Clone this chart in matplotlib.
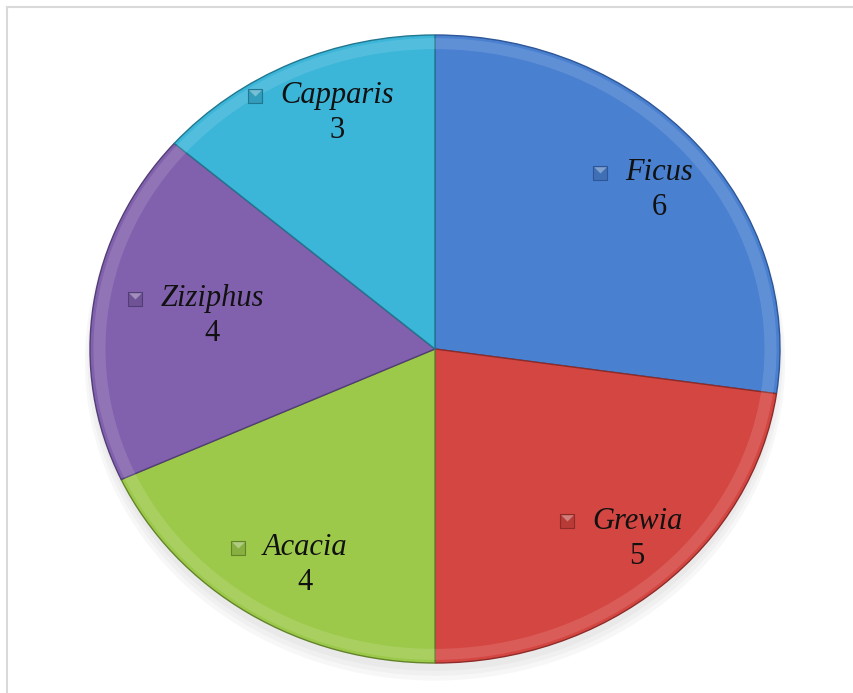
import numpy as np
import matplotlib
matplotlib.use("Agg")
import matplotlib.pyplot as plt
from matplotlib.patches import Ellipse, Wedge
from matplotlib.lines import Line2D

# data
genera = ["Ficus", "Grewia", "Acacia", "Ziziphus", "Capparis"]
counts = [6, 5, 4, 4, 3]
colors = ["#4a80d0", "#d44641", "#9cc94a", "#8161ad", "#3bb5d8"]
edges = ["#2d5597", "#8e2b28", "#62832a", "#523d76", "#21778f"]
marks = ["#3f6fb5", "#b83b37", "#88b040", "#6f5396", "#329dbc"]
# label placement: distance from centre and angle shift from wedge middle
label_dist = [0.823, 0.842, 0.784, 0.655, 0.804]
label_shift = [-3.0, 3.2, 4.0, -1.0, -3.8]

W, H = 854, 693
cx, cy = 435, 349      # pie centre in pixels (from top-left)
rx, ry = 345, 314      # pie radii in pixels

fig = plt.figure(figsize=(W / 100, H / 100), dpi=100)
ax = fig.add_axes([0, 0, 1, 1])

wedges, _ = ax.pie(counts, colors=colors, startangle=90, counterclock=False,
                   radius=1.0, wedgeprops=dict(linewidth=1.0, zorder=2))
ax.set_aspect("auto")
ax.set_xlim(-cx / rx, (W - cx) / rx)
ax.set_ylim(-(H - cy) / ry, cy / ry)
ax.axis("off")

for w, ec in zip(wedges, edges):
    w.set_edgecolor(ec)

# soft shadow under the pie
for k in range(3):
    ax.add_patch(Ellipse((0.0, -0.025 - 0.008 * k), 2.0 + 0.015 * k, 2.0 + 0.015 * k,
                         color="#808080", alpha=0.06, lw=0, zorder=0))

# bevel: lighter inner rim
for w in wedges:
    ax.add_patch(Wedge((0, 0), 0.99, w.theta1, w.theta2, width=0.035,
                       facecolor="white", alpha=0.12, lw=0, zorder=3))

fig.canvas.draw()
r = fig.canvas.get_renderer()
inv = ax.transData.inverted()

top_facet = [(-1, 1), (1, 1), (0, 0), (-1, 1)]

for w, name, n, d, s, mc, ec in zip(wedges, genera, counts, label_dist, label_shift,
                                    marks, edges):
    ang = np.deg2rad((w.theta1 + w.theta2) / 2 + s)
    x, y = d * np.cos(ang), d * np.sin(ang)
    t = ax.annotate(name, (x, y), xytext=(0, 12.5), textcoords="offset points",
                    ha="center", va="center", fontsize=22,
                    family="Liberation Serif", style="italic", color="#111111", zorder=5)
    ax.annotate(str(n), (x, y), xytext=(0, -12.5), textcoords="offset points",
                ha="center", va="center", fontsize=22,
                family="Liberation Serif", color="#111111", zorder=5)
    bb = t.get_window_extent(r)
    px = bb.x0 - 25
    py = bb.y0 + bb.height * 0.5
    mx, my = inv.transform((px, py))
    ax.plot(mx, my, marker="s", markersize=10, markerfacecolor=mc,
            markeredgecolor=ec, markeredgewidth=0.8, zorder=6)
    # lighter top facet of the bevelled key
    ax.plot(mx, my, marker=top_facet, markersize=9, markerfacecolor="white",
            markeredgewidth=0, alpha=0.35, zorder=7)

# light frame on top and left
fig.add_artist(Line2D([7 / W, 1], [1 - 7 / H, 1 - 7 / H], color="#d9d9d9", lw=1.5))
fig.add_artist(Line2D([7 / W, 7 / W], [0, 1 - 7 / H], color="#d9d9d9", lw=1.5))

fig.savefig("out.png", dpi=100)
